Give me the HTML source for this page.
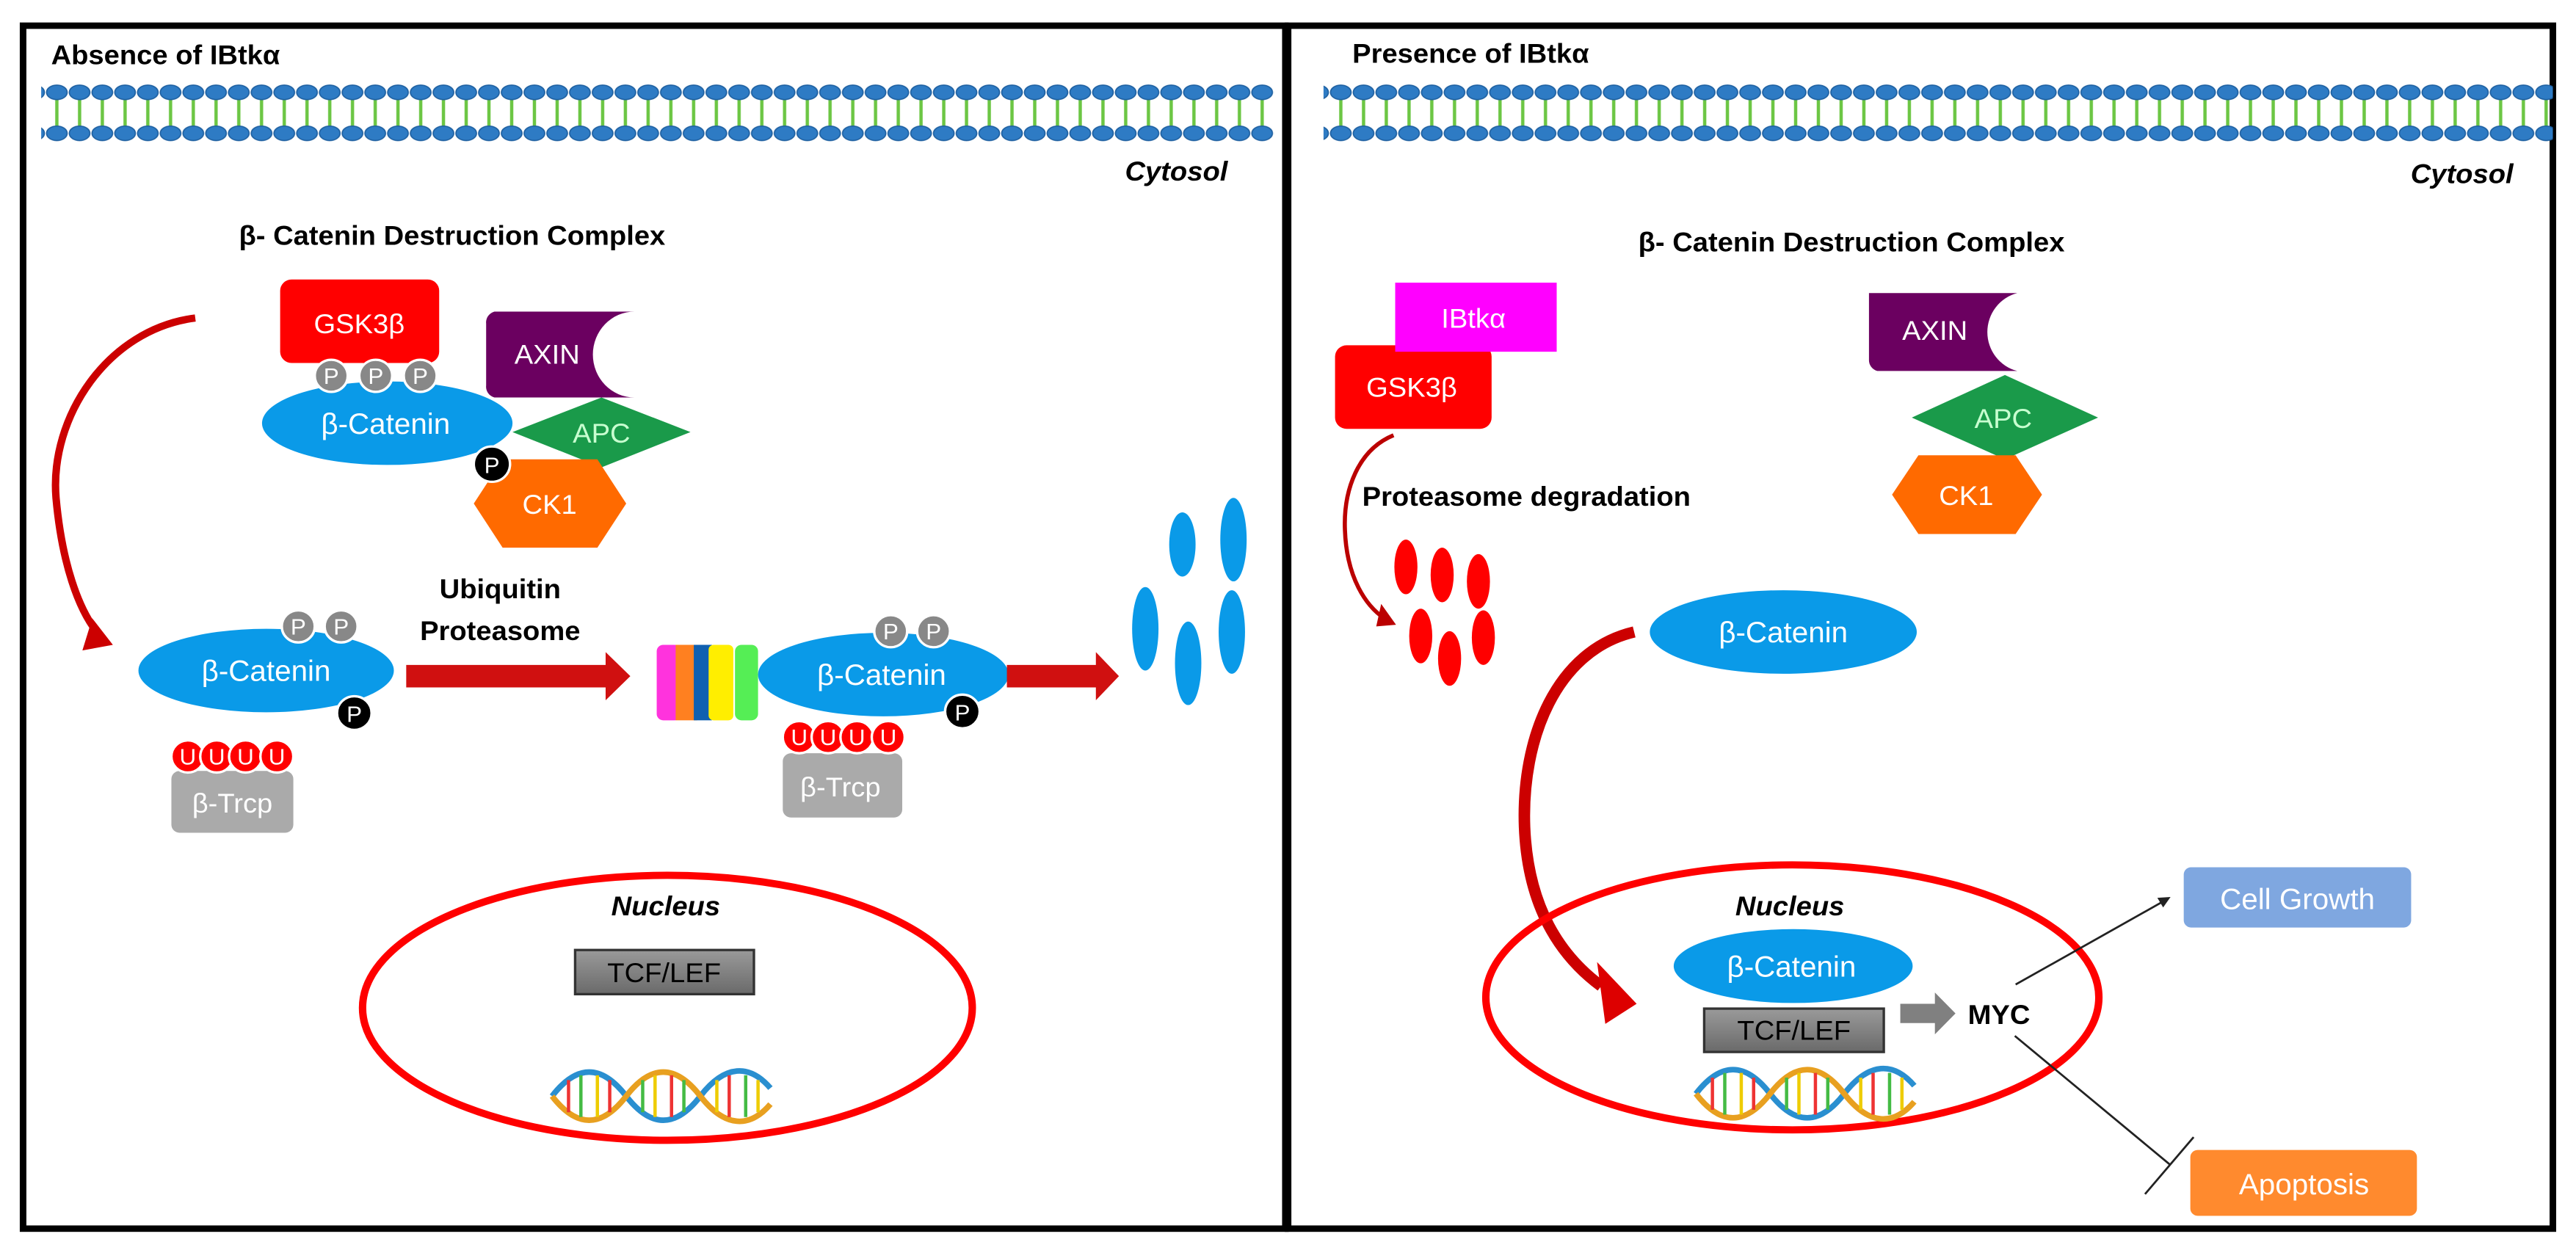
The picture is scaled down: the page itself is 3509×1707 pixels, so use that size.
<!DOCTYPE html>
<html><head><meta charset="utf-8"><style>
html,body{margin:0;padding:0;background:#fff;}
svg{display:block;}
text{font-family:"Liberation Sans","DejaVu Sans",sans-serif;}
</style></head><body>
<svg width="3509" height="1707" viewBox="0 0 3509 1707" xmlns="http://www.w3.org/2000/svg">
<defs>
<pattern id="mem" x="0" y="0" width="27.6" height="200" patternUnits="userSpaceOnUse">
<line x1="13.8" y1="118" x2="13.8" y2="162" stroke="#6cc644" stroke-width="4"/>
<ellipse cx="13.8" cy="115" rx="12.5" ry="9" fill="#2e7bc4" stroke="#1d5fa0" stroke-width="1.5"/>
<ellipse cx="13.8" cy="166" rx="12.5" ry="9" fill="#2e7bc4" stroke="#1d5fa0" stroke-width="1.5"/>
</pattern>
<linearGradient id="tcf" x1="0" y1="0" x2="0" y2="1"><stop offset="0" stop-color="#9a9a9a"/><stop offset="1" stop-color="#6a6a6a"/></linearGradient>
<g id="dna">
<path d="M0,40 C30,0 60,0 90,40 S150,80 180,40 S240,0 265,30" fill="none" stroke="#2a8fd0" stroke-width="7"/>
<path d="M0,40 C30,80 60,80 90,40 S150,0 180,40 S240,80 265,50" fill="none" stroke="#e8a020" stroke-width="7"/>
<g stroke-width="4">
<line x1="20" y1="20" x2="20" y2="60" stroke="#e33"/><line x1="35" y1="14" x2="35" y2="66" stroke="#4b4"/><line x1="55" y1="14" x2="55" y2="66" stroke="#ec0"/><line x1="70" y1="20" x2="70" y2="60" stroke="#e33"/>
<line x1="110" y1="20" x2="110" y2="60" stroke="#4b4"/><line x1="125" y1="14" x2="125" y2="66" stroke="#ec0"/><line x1="145" y1="14" x2="145" y2="66" stroke="#e33"/><line x1="160" y1="20" x2="160" y2="60" stroke="#4b4"/>
<line x1="200" y1="20" x2="200" y2="60" stroke="#ec0"/><line x1="215" y1="14" x2="215" y2="66" stroke="#e33"/><line x1="235" y1="14" x2="235" y2="66" stroke="#4b4"/><line x1="250" y1="20" x2="250" y2="60" stroke="#ec0"/>
</g>
</g>
</defs>
<rect width="3509" height="1707" fill="#fff"/>

<!-- LEFT PANEL -->
<g transform="scale(1.1224,1.094)">
<rect x="28" y="32" width="1532" height="1498" fill="none" stroke="#000" stroke-width="8"/>
<text x="62" y="80" font-size="34" font-weight="bold">Absence of IBtkα</text>
<rect x="50" y="100" width="1496" height="80" fill="url(#mem)"/>
<text x="1490" y="225" font-size="34" font-weight="bold" font-style="italic" text-anchor="end">Cytosol</text>
<text x="290" y="305" font-size="34" font-weight="bold">β- Catenin Destruction  Complex</text>

<rect x="340" y="348" width="193" height="104" rx="14" fill="#f00"/>
<text x="436" y="415" font-size="34" fill="#fff" text-anchor="middle">GSK3β</text>
<path d="M600,388 H770 A50,53 0 0 0 770,495 H600 A14,14 0 0 1 590,480 V403 A14,14 0 0 1 600,388 Z" fill="#6b0060"/>
<text x="664" y="453" font-size="34" fill="#fff" text-anchor="middle">AXIN</text>
<ellipse cx="470" cy="527" rx="152" ry="52" fill="#0a9ae8"/>
<text x="468" y="540" font-size="36" fill="#fff" text-anchor="middle">β-Catenin</text>
<g fill="#888" stroke="#fff" stroke-width="3"><circle cx="402" cy="468" r="20"/><circle cx="456" cy="468" r="20"/><circle cx="510" cy="468" r="20"/></g>
<g font-size="28" fill="#fff" text-anchor="middle"><text x="402" y="478">P</text><text x="456" y="478">P</text><text x="510" y="478">P</text></g>
<polygon points="622,538 730,495 838,538 730,582" fill="#1a9a4a"/>
<text x="730" y="551" font-size="34" fill="#c8ffd0" text-anchor="middle">APC</text>
<polygon points="575,627 610,572 725,572 760,627 725,682 610,682" fill="#ff6a00"/>
<text x="667" y="640" font-size="34" fill="#fff" text-anchor="middle">CK1</text>
<circle cx="597" cy="578" r="22" fill="#000" stroke="#fff" stroke-width="3"/>
<text x="597" y="589" font-size="28" fill="#fff" text-anchor="middle">P</text>

<path d="M237,396 C130,410 60,520 68,620 C75,700 95,760 120,790" fill="none" stroke="#c00" stroke-width="9"/>
<polygon points="100,810 112,770 137,803" fill="#c00"/>

<text x="607" y="745" font-size="34" font-weight="bold" text-anchor="middle">Ubiquitin</text>
<text x="607" y="797" font-size="34" font-weight="bold" text-anchor="middle">Proteasome</text>

<ellipse cx="323" cy="835" rx="155" ry="52" fill="#0a9ae8"/>
<text x="323" y="848" font-size="36" fill="#fff" text-anchor="middle">β-Catenin</text>
<g fill="#888" stroke="#fff" stroke-width="3"><circle cx="362" cy="780" r="20"/><circle cx="414" cy="780" r="20"/></g>
<g font-size="28" fill="#fff" text-anchor="middle"><text x="362" y="790">P</text><text x="414" y="790">P</text></g>
<circle cx="430" cy="888" r="21" fill="#000" stroke="#fff" stroke-width="3"/>
<text x="430" y="899" font-size="28" fill="#fff" text-anchor="middle">P</text>
<rect x="208" y="960" width="148" height="77" rx="10" fill="#aaa"/>
<text x="282" y="1012" font-size="34" fill="#fff" text-anchor="middle">β-Trcp</text>
<g fill="#f00" stroke="#fff" stroke-width="3"><circle cx="228" cy="942" r="20"/><circle cx="263" cy="942" r="20"/><circle cx="298" cy="942" r="20"/><circle cx="336" cy="942" r="20"/></g>
<g font-size="28" fill="#fff" text-anchor="middle"><text x="228" y="952">U</text><text x="263" y="952">U</text><text x="298" y="952">U</text><text x="336" y="952">U</text></g>

<polygon points="493,828 735,828 735,812 765,842 735,872 735,856 493,856" fill="#d01010"/>

<g>
<rect x="797" y="803" width="30" height="94" rx="8" fill="#ff33dd"/>
<rect x="820" y="803" width="26" height="94" fill="#ff8020"/>
<rect x="842" y="803" width="22" height="94" fill="#1060b0"/>
<rect x="860" y="803" width="30" height="94" rx="6" fill="#ffee00"/>
<rect x="892" y="803" width="28" height="94" rx="8" fill="#55ee55"/>
</g>
<ellipse cx="1072" cy="840" rx="152" ry="52" fill="#0a9ae8"/>
<text x="1070" y="853" font-size="36" fill="#fff" text-anchor="middle">β-Catenin</text>
<g fill="#888" stroke="#fff" stroke-width="3"><circle cx="1081" cy="786" r="20"/><circle cx="1133" cy="786" r="20"/></g>
<g font-size="28" fill="#fff" text-anchor="middle"><text x="1081" y="796">P</text><text x="1133" y="796">P</text></g>
<circle cx="1168" cy="886" r="21" fill="#000" stroke="#fff" stroke-width="3"/>
<text x="1168" y="897" font-size="28" fill="#fff" text-anchor="middle">P</text>
<rect x="950" y="938" width="145" height="80" rx="10" fill="#aaa"/>
<text x="1020" y="992" font-size="34" fill="#fff" text-anchor="middle">β-Trcp</text>
<g fill="#f00" stroke="#fff" stroke-width="3"><circle cx="970" cy="918" r="20"/><circle cx="1005" cy="918" r="20"/><circle cx="1040" cy="918" r="20"/><circle cx="1078" cy="918" r="20"/></g>
<g font-size="28" fill="#fff" text-anchor="middle"><text x="970" y="928">U</text><text x="1005" y="928">U</text><text x="1040" y="928">U</text><text x="1078" y="928">U</text></g>

<polygon points="1222,828 1330,828 1330,812 1358,842 1330,872 1330,856 1222,856" fill="#d01010"/>

<g fill="#0a9ae8">
<ellipse cx="1435" cy="678" rx="16" ry="40"/><ellipse cx="1497" cy="672" rx="16" ry="52"/>
<ellipse cx="1390" cy="783" rx="16" ry="52"/><ellipse cx="1442" cy="826" rx="16" ry="52"/><ellipse cx="1495" cy="787" rx="16" ry="52"/>
</g>

<ellipse cx="810" cy="1255" rx="370" ry="165" fill="none" stroke="#f00" stroke-width="9"/>
<text x="808" y="1140" font-size="34" font-weight="bold" font-style="italic" text-anchor="middle">Nucleus</text>
<rect x="698" y="1183" width="217" height="55" fill="url(#tcf)" stroke="#333" stroke-width="3"/>
<text x="806" y="1223" font-size="34" text-anchor="middle">TCF/LEF</text>
<use href="#dna" x="670" y="1325"/>
</g>

<!-- RIGHT PANEL -->
<g transform="translate(1749,0) scale(1.1224,1.094)">
<rect x="5" y="32" width="1535" height="1498" fill="none" stroke="#000" stroke-width="8"/>
<text x="83" y="78" font-size="34" font-weight="bold">Presence of IBtkα</text>
<rect x="48" y="100" width="1492" height="80" fill="url(#mem)"/>
<text x="1492" y="228" font-size="34" font-weight="bold" font-style="italic" text-anchor="end">Cytosol</text>
<text x="430" y="313" font-size="34" font-weight="bold">β- Catenin Destruction  Complex</text>

<rect x="62" y="430" width="190" height="104" rx="14" fill="#f00"/>
<rect x="135" y="352" width="196" height="86" fill="#ff00ff"/>
<text x="230" y="408" font-size="34" fill="#fff" text-anchor="middle">IBtkα</text>
<text x="155" y="494" font-size="34" fill="#fff" text-anchor="middle">GSK3β</text>

<path d="M133,542 C90,560 72,610 74,660 C76,720 100,755 122,770" fill="none" stroke="#b00" stroke-width="5"/>
<polygon points="112,780 118,752 136,778" fill="#b00"/>
<text x="95" y="630" font-size="34" font-weight="bold">Proteasome degradation</text>
<g fill="#f00">
<ellipse cx="148" cy="706" rx="14" ry="34"/><ellipse cx="192" cy="716" rx="14" ry="34"/><ellipse cx="236" cy="724" rx="14" ry="34"/>
<ellipse cx="166" cy="792" rx="14" ry="34"/><ellipse cx="201" cy="820" rx="14" ry="34"/><ellipse cx="242" cy="794" rx="14" ry="34"/>
</g>

<path d="M710,365 H890 A48,50 0 0 0 890,462 H720 A14,14 0 0 1 710,448 Z" fill="#6b0060"/>
<text x="790" y="423" font-size="34" fill="#fff" text-anchor="middle">AXIN</text>
<polygon points="762,520 875,467 988,520 875,572" fill="#1a9a4a"/>
<text x="873" y="533" font-size="34" fill="#c8ffd0" text-anchor="middle">APC</text>
<polygon points="738,616 770,567 888,567 920,616 888,665 770,665" fill="#ff6a00"/>
<text x="828" y="629" font-size="34" fill="#fff" text-anchor="middle">CK1</text>

<ellipse cx="606" cy="787" rx="162" ry="52" fill="#0a9ae8"/>
<text x="606" y="800" font-size="36" fill="#fff" text-anchor="middle">β-Catenin</text>

<path d="M425,787 C330,810 288,920 292,1030 C296,1130 335,1190 385,1228" fill="none" stroke="#c00" stroke-width="14"/>
<polygon points="380,1198 428,1250 390,1275" fill="#d00"/>

<ellipse cx="617" cy="1242" rx="372" ry="165" fill="none" stroke="#f00" stroke-width="9"/>
<text x="614" y="1140" font-size="34" font-weight="bold" font-style="italic" text-anchor="middle">Nucleus</text>
<ellipse cx="618" cy="1203" rx="145" ry="46" fill="#0a9ae8"/>
<text x="616" y="1216" font-size="36" fill="#fff" text-anchor="middle">β-Catenin</text>
<rect x="510" y="1256" width="218" height="54" fill="url(#tcf)" stroke="#333" stroke-width="3"/>
<text x="619" y="1295" font-size="34" text-anchor="middle">TCF/LEF</text>
<use href="#dna" x="500" y="1322"/>

<polygon points="748,1250 790,1250 790,1236 815,1262 790,1288 790,1274 748,1274" fill="#808080"/>
<text x="830" y="1275" font-size="34" font-weight="bold">MYC</text>

<line x1="888" y1="1226" x2="1068" y2="1122" stroke="#222" stroke-width="2.5"/>
<polygon points="1076,1117 1060,1118 1067,1130" fill="#222"/>
<rect x="1092" y="1080" width="276" height="75" rx="9" fill="#7fa7e0"/>
<text x="1230" y="1132" font-size="36" fill="#fff" text-anchor="middle">Cell Growth</text>

<line x1="887" y1="1290" x2="1075" y2="1450" stroke="#222" stroke-width="2.5"/>
<line x1="1045" y1="1487" x2="1104" y2="1416" stroke="#222" stroke-width="2.5"/>
<rect x="1100" y="1432" width="275" height="82" rx="9" fill="#ff8a2e"/>
<text x="1238" y="1487" font-size="36" fill="#fff" text-anchor="middle">Apoptosis</text>
</g>
</svg>
</body></html>
